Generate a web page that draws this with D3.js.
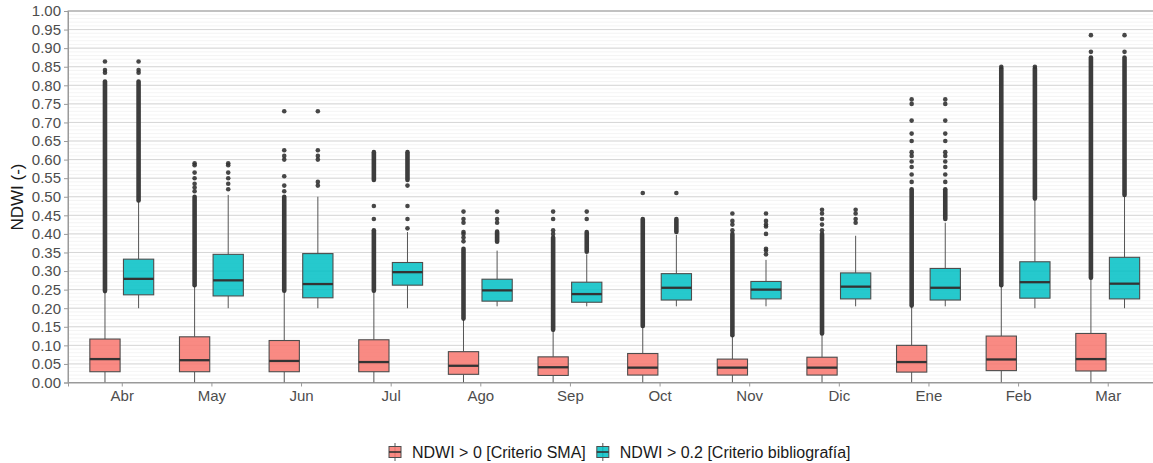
<!DOCTYPE html>
<html>
<head>
<meta charset="utf-8">
<script src="https://cdn.jsdelivr.net/npm/d3@7"></script>
<style>
  body { margin: 0; background: #fff; }
  svg { font-family: "Liberation Sans", Arial, sans-serif; }
</style>
</head>
<body>
<svg width="1153" height="463"></svg>
<script>
// months (hydrological year, April -> March)
var months = ["Abr","May","Jun","Jul","Ago","Sep","Oct","Nov","Dic","Ene","Feb","Mar"]
var groups = ["NDWI > 0 [Criterio SMA]", "NDWI > 0.2 [Criterio bibliografía]"]
var yTicks = [0,0.05,0.10,0.15,0.20,0.25,0.30,0.35,0.40,0.45,0.50,0.55,0.60,0.65,0.70,0.75,0.80,0.85,0.90,0.95,1.00]

// [lower whisker, Q1, median, Q3, upper whisker]
var smaStats = [
  [0.00, 0.029, 0.063, 0.117, 0.245],
  [0.00, 0.029, 0.060, 0.123, 0.260],
  [0.00, 0.029, 0.058, 0.113, 0.245],
  [0.00, 0.029, 0.055, 0.115, 0.245],
  [0.00, 0.022, 0.045, 0.083, 0.170],
  [0.00, 0.019, 0.041, 0.069, 0.140],
  [0.00, 0.020, 0.040, 0.078, 0.150],
  [0.00, 0.020, 0.040, 0.063, 0.125],
  [0.00, 0.020, 0.040, 0.068, 0.130],
  [0.00, 0.028, 0.055, 0.100, 0.205],
  [0.00, 0.032, 0.062, 0.125, 0.260],
  [0.00, 0.031, 0.063, 0.132, 0.280]
]
var bibStats = [
  [0.200, 0.236, 0.279, 0.332, 0.486],
  [0.200, 0.233, 0.275, 0.345, 0.505],
  [0.200, 0.228, 0.265, 0.347, 0.500],
  [0.200, 0.262, 0.297, 0.323, 0.405],
  [0.205, 0.219, 0.248, 0.278, 0.355],
  [0.205, 0.216, 0.238, 0.270, 0.345],
  [0.205, 0.222, 0.255, 0.293, 0.397],
  [0.205, 0.225, 0.250, 0.272, 0.330],
  [0.205, 0.225, 0.258, 0.295, 0.395],
  [0.205, 0.222, 0.255, 0.307, 0.430],
  [0.200, 0.227, 0.270, 0.325, 0.490],
  [0.200, 0.225, 0.266, 0.337, 0.500]
]

// dense runs of outliers [from, to] and single outliers
var smaRuns = [
  [[0.246, 0.810]],
  [[0.262, 0.500]],
  [[0.247, 0.500]],
  [[0.247, 0.410], [0.545, 0.620]],
  [[0.172, 0.360]],
  [[0.142, 0.390]],
  [[0.152, 0.440]],
  [[0.127, 0.400]],
  [[0.132, 0.400]],
  [[0.207, 0.520]],
  [[0.262, 0.845]],
  [[0.282, 0.875]]
]
var smaPoints = [
  [0.834, 0.841, 0.864],
  [0.515, 0.525, 0.535, 0.55, 0.565, 0.585, 0.59],
  [0.515, 0.53, 0.555, 0.60, 0.61, 0.625, 0.73],
  [0.44, 0.475],
  [0.38, 0.39, 0.40, 0.405, 0.43, 0.44, 0.46],
  [0.40, 0.41, 0.44, 0.46],
  [0.51],
  [0.41, 0.425, 0.435, 0.455],
  [0.41, 0.425, 0.44, 0.455, 0.465],
  [0.54, 0.56, 0.58, 0.595, 0.61, 0.62, 0.65, 0.67, 0.705, 0.75, 0.762],
  [0.85],
  [0.89, 0.935]
]
var bibRuns = [
  [[0.490, 0.810]],
  [],
  [],
  [[0.545, 0.620]],
  [[0.379, 0.406]],
  [[0.352, 0.405]],
  [[0.405, 0.440]],
  [],
  [],
  [[0.440, 0.520]],
  [[0.495, 0.845]],
  [[0.505, 0.875]]
]
var bibPoints = [
  [0.834, 0.841, 0.864],
  [0.52, 0.535, 0.55, 0.565, 0.585, 0.59],
  [0.53, 0.54, 0.60, 0.61, 0.625, 0.73],
  [0.415, 0.44, 0.475, 0.53],
  [0.43, 0.44, 0.46],
  [0.44, 0.46],
  [0.51],
  [0.345, 0.355, 0.36, 0.40, 0.42, 0.425, 0.435, 0.455],
  [0.43, 0.44, 0.455, 0.465],
  [0.54, 0.56, 0.58, 0.595, 0.61, 0.62, 0.65, 0.67, 0.705, 0.75, 0.762],
  [0.85],
  [0.89, 0.935]
]

var colors = ["#F8766D", "#00BFC4"]

var svg = d3.select("svg")
var padL = 68, padR = 1161.5, padT = 11, padB = 382.5

var x = d3.scalePoint().domain(months).range([padL, padR]).padding(0.6)
var step = x.step()
var dodge = d3.scaleBand().domain(groups).range([-0.375 * step, 0.375 * step])
var y = d3.scaleLinear().domain([0, 1]).range([padB, padT])

// grid
var grid = svg.append("g")
grid.selectAll("line.minor")
  .data(d3.range(0, 101).map(d => d / 100))
  .enter().append("line")
  .attr("x1", padL).attr("x2", padR)
  .attr("y1", d => y(d)).attr("y2", d => y(d))
  .style("stroke", "#ececec").style("stroke-width", 0.6)
grid.selectAll("line.major")
  .data(yTicks)
  .enter().append("line")
  .attr("x1", padL).attr("x2", padR)
  .attr("y1", d => y(d)).attr("y2", d => y(d))
  .style("stroke", "#d6d6d6").style("stroke-width", 1)

// panel border
svg.append("rect")
  .attr("x", padL).attr("y", padT)
  .attr("width", padR - padL).attr("height", padB - padT)
  .style("fill", "none").style("stroke", "#9a9a9a").style("stroke-width", 1)

// boxes
var boxes = []
months.forEach((m, i) => {
  boxes.push({m: m, g: groups[0], c: colors[0], s: smaStats[i], runs: smaRuns[i], pts: smaPoints[i]})
  boxes.push({m: m, g: groups[1], c: colors[1], s: bibStats[i], runs: bibRuns[i], pts: bibPoints[i]})
})
var bw = dodge.bandwidth() * 0.9

var bg = svg.append("g").selectAll("g")
  .data(boxes)
  .enter().append("g")
  .attr("transform", d => `translate(${x(d.m) + dodge(d.g) + dodge.bandwidth() / 2},0)`)

bg.append("line")
  .attr("y1", d => y(d.s[0])).attr("y2", d => y(d.s[1]))
  .style("stroke", "#555").style("stroke-width", 1)
bg.append("line")
  .attr("y1", d => y(d.s[3])).attr("y2", d => y(d.s[4]))
  .style("stroke", "#555").style("stroke-width", 1)

bg.selectAll("line.run")
  .data(d => d.runs)
  .enter().append("line")
  .attr("y1", d => y(d[0])).attr("y2", d => y(d[1]))
  .style("stroke", "#333").style("stroke-width", 4.6)
  .style("stroke-linecap", "round").style("opacity", 0.95)
bg.selectAll("circle")
  .data(d => d.pts)
  .enter().append("circle")
  .attr("cy", d => y(d)).attr("r", 2.3)
  .style("fill", "#333").style("opacity", 0.9)

bg.append("rect")
  .attr("x", -bw / 2).attr("width", bw)
  .attr("y", d => y(d.s[3])).attr("height", d => y(d.s[1]) - y(d.s[3]))
  .style("fill", d => d.c).style("fill-opacity", 0.85)
  .style("stroke", "#4d4d4d").style("stroke-width", 1.1)
bg.append("line")
  .attr("x1", -bw / 2).attr("x2", bw / 2)
  .attr("y1", d => y(d.s[2])).attr("y2", d => y(d.s[2]))
  .style("stroke", "#333").style("stroke-width", 2.3)

// axes
var ya = svg.append("g").attr("transform", `translate(${padL},0)`)
  .call(d3.axisLeft(y).tickValues(yTicks).tickFormat(d3.format(".2f")).tickSize(4).tickPadding(3))
var xa = svg.append("g").attr("transform", `translate(0,${padB})`)
  .call(d3.axisBottom(x).tickSize(4).tickPadding(4))
;[ya, xa].forEach(a => {
  a.select(".domain").style("stroke", "#9a9a9a")
  a.selectAll(".tick line").style("stroke", "#9a9a9a")
  a.selectAll("text").style("fill", "#4d4d4d").style("font-size", "15px")
})

svg.append("text")
  .attr("transform", "translate(23,197) rotate(-90)")
  .attr("text-anchor", "middle")
  .style("font-size", "17px").style("fill", "#1a1a1a")
  .text("NDWI (-)")

// legend
var legend = svg.append("g").attr("transform", "translate(389,452)")
var lx = 0
groups.forEach((g, i) => {
  var k = legend.append("g").attr("transform", `translate(${lx},0)`)
  k.append("line").attr("x1", 6).attr("x2", 6).attr("y1", -9).attr("y2", 9)
    .style("stroke", "#555").style("stroke-width", 1)
  k.append("rect").attr("x", 0).attr("y", -5.5).attr("width", 12).attr("height", 11)
    .style("fill", colors[i]).style("fill-opacity", 0.85)
    .style("stroke", "#4d4d4d").style("stroke-width", 1)
  k.append("line").attr("x1", 0).attr("x2", 12).attr("y1", 0).attr("y2", 0)
    .style("stroke", "#333").style("stroke-width", 1.6)
  var t = k.append("text").attr("x", 23).attr("y", 5.5)
    .style("font-size", "16px").style("fill", "#1a1a1a")
    .text(g)
  lx += 23 + t.node().getComputedTextLength() + 11
})
</script>
</body>
</html>
